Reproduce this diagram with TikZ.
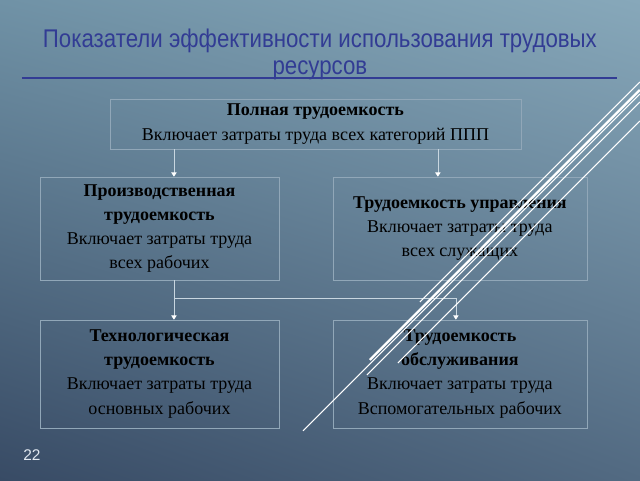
\documentclass[tikz,border=0pt]{standalone}
\usepackage{fontspec}
\setmainfont{Liberation Serif}
\newfontfamily\titlefont[FakeStretch=0.87]{Liberation Sans}
\newfontfamily\numfont{Liberation Sans}
\usetikzlibrary{arrows.meta, shadings}

\definecolor{bgUL}{RGB}{112,146,166}
\definecolor{bgUR}{RGB}{135,168,186}
\definecolor{bgLL}{RGB}{56,75,101}
\definecolor{bgLR}{RGB}{82,106,130}
\definecolor{titleblue}{RGB}{50,60,148}
\definecolor{boxline}{RGB}{145,167,184}
\definecolor{linkline}{RGB}{200,214,224}
\definecolor{numcol}{RGB}{225,232,240}

\tikzset{
  box/.style={draw=boxline, line width=0.4pt, inner sep=0pt, align=center,
    font=\fontsize{12.8}{17.2}\selectfont},
  link/.style={draw=linkline, line width=0.5pt,
    -{Triangle[width=3.8pt,length=3pt,fill=white,color=white]}},
  deco/.style={white, line width=0.7pt},
}

\begin{document}
\begin{tikzpicture}[x=0.025cm,y=-0.025cm]
    % background
    \shade[upper left=bgUL, upper right=bgUR, lower left=bgLL, lower right=bgLR]
        (0cm,0cm) rectangle (16cm,-12cm);
    \useasboundingbox (0,0) rectangle (640,480);

    % title
    \node[anchor=base, font=\titlefont\fontsize{18.2}{20}\selectfont, text=titleblue, inner sep=0pt] (title) at (320,48) {Показатели эффективности использования трудовых};
    \node[anchor=base, font=\titlefont\fontsize{18.2}{20}\selectfont, text=titleblue, inner sep=0pt] (title2) at (320,75) {ресурсов};
    \draw[titleblue, line width=1.4pt] (22,78) -- (617,78);

    % boxes
    \node[box, minimum width=10.275cm, minimum height=1.25cm] (full) at (315.5,124) {\textbf{Полная трудоемкость}\\Включает затраты труда всех категорий ППП};
    \node[box, minimum width=5.975cm, minimum height=2.575cm] (prod) at (159.5,228.5) {\textbf{Производственная}\\\textbf{трудоемкость}\\Включает затраты труда\\всех рабочих};
    \node[box, minimum width=6.35cm, minimum height=2.575cm] (mgmt) at (460,228.5) {\textbf{Трудоемкость управления}\\Включает затраты труда\\всех служащих};
    \node[box, minimum width=5.975cm, minimum height=2.7cm] (tech) at (159.5,374) {\textbf{Технологическая}\\\textbf{трудоемкость}\\Включает затраты труда\\основных рабочих};
    \node[box, minimum width=6.35cm, minimum height=2.7cm] (serv) at (460,374) {\textbf{Трудоемкость}\\\textbf{обслуживания}\\Включает затраты труда\\Вспомогательных рабочих};

    % connectors
    \coordinate (ax) at (174,0);
    \coordinate (bx) at (438,0);
    \coordinate (cx) at (456,0);
    \coordinate (fork) at (174,298);
    \draw[link] (full.south -| ax) -- (prod.north -| ax);
    \draw[link] (full.south -| bx) -- (mgmt.north -| bx);
    \draw[link] (prod.south -| fork) -- (tech.north -| fork);
    \draw[link] (fork) -| (serv.north -| cx);

    % decoration lines
    \draw[deco] (640,82) -- (420,302);
    \draw[deco, line width=1.6pt] (640,90) -- (370,360);
    \draw[deco] (640,94) -- (303,431);
    \draw[deco] (640,102) -- (367,375);
    \draw[deco] (640,121) -- (398,363);

    % slide number
    \node[font=\numfont\fontsize{11}{13}\selectfont, text=numcol] (page) at (32,455) {22};
\end{tikzpicture}
\end{document}
